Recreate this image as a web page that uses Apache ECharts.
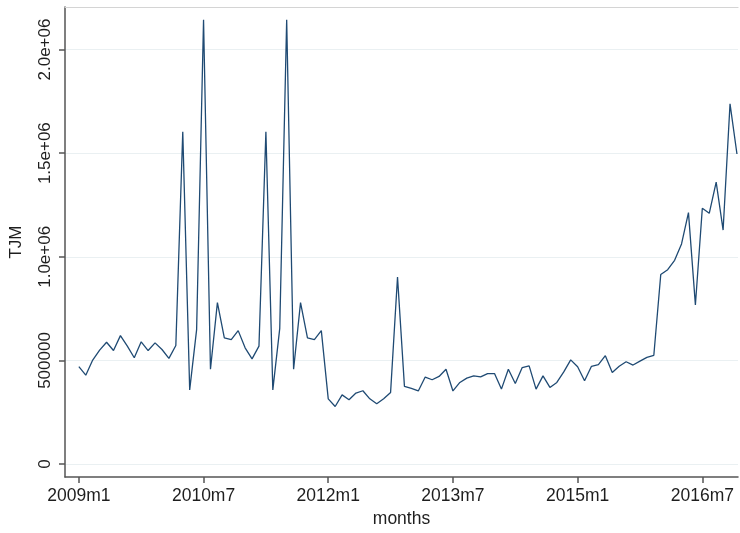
<!DOCTYPE html>
<html>
<head>
<meta charset="utf-8">
<script src="https://cdn.jsdelivr.net/npm/echarts@6/dist/echarts.min.js"></script>
<style>
  html, body { margin: 0; padding: 0; background: #ffffff; }
  #chart { width: 740px; height: 533px; }
</style>
</head>
<body>
<div id="chart"></div>
<script>
// Monthly TJM series, starting 2009m1 (index 0) through 2016m12 (index 95)
const tjm = [
  470000, 429000, 502000, 550000, 588000, 548000, 620000, 569000, 513000, 590000, 548000, 585000,
  553000, 510000, 572000, 1603000, 358000, 649000, 2143000, 458000, 779000, 609000, 601000, 644000,
  561000, 508000, 569000, 1603000, 358000, 655000, 2143000, 458000, 779000, 609000, 601000, 644000,
  315000, 278000, 334000, 311000, 343000, 354000, 315000, 291000, 315000, 346000, 903000, 375000,
  365000, 353000, 420000, 407000, 423000, 458000, 353000, 394000, 415000, 426000, 421000, 437000,
  437000, 362000, 458000, 389000, 466000, 474000, 362000, 426000, 370000, 394000, 445000, 503000,
  470000, 402000, 472000, 480000, 523000, 442000, 472000, 494000, 478000, 497000, 515000, 525000,
  915000, 938000, 983000, 1062000, 1213000, 768000, 1234000, 1210000, 1360000, 1129000, 1738000, 1496000
];

// Axis ticks (x: month offsets from 2009m1, y: levels) and their printed labels
const xTickValues = [0, 18, 36, 54, 72, 90];
const xTickLabels = ['2009m1', '2010m7', '2012m1', '2013m7', '2015m1', '2016m7'];
const yTickValues = [0, 500000, 1000000, 1500000, 2000000];
const yTickLabels = ['0', '500000', '1.0e+06', '1.5e+06', '2.0e+06'];

const points = tjm.map((v, i) => [i, v]);

const textColor = '#1e1e1e';
const axisColor = '#555555';
const fontFamily = '"Liberation Sans", Arial, sans-serif';

const chart = echarts.init(document.getElementById('chart'), null, { renderer: 'canvas' });
chart.setOption({
  animation: false,
  backgroundColor: '#ffffff',
  grid: { left: 65, right: 2, top: 7, bottom: 51, containLabel: false },
  xAxis: [
    {
      type: 'value',
      min: -2,
      max: 95.15,
      name: 'months',
      nameLocation: 'middle',
      nameGap: 33,
      nameTextStyle: { color: textColor, fontSize: 17.5, fontFamily },
      axisLine: { show: true, onZero: false, lineStyle: { color: axisColor, width: 1.5 } },
      axisTick: { show: true, length: 6, customValues: xTickValues, lineStyle: { color: axisColor, width: 1.5 } },
      axisLabel: {
        customValues: xTickValues,
        margin: 10,
        color: textColor,
        fontSize: 17.5,
        fontFamily,
        formatter: (v) => xTickLabels[xTickValues.indexOf(v)]
      },
      splitLine: { show: false }
    },
    {
      // light frame line along the top of the plot area
      type: 'value',
      position: 'top',
      min: -2,
      max: 95.15,
      axisLine: { show: true, onZero: false, lineStyle: { color: '#d4d4d4', width: 1.2 } },
      axisTick: { show: false },
      axisLabel: { show: false },
      splitLine: { show: false }
    }
  ],
  yAxis: {
    type: 'value',
    min: -62000,
    max: 2205000,
    name: 'TJM',
    nameLocation: 'middle',
    nameGap: 40,
    nameRotate: 90,
    nameTextStyle: { color: textColor, fontSize: 17, fontFamily },
    axisLine: { show: true, onZero: false, lineStyle: { color: axisColor, width: 1.5 } },
    axisTick: { show: true, length: 6, customValues: yTickValues, lineStyle: { color: axisColor, width: 1.5 } },
    axisLabel: {
      customValues: yTickValues,
      rotate: 90,
      margin: 11,
      color: textColor,
      fontSize: 17,
      fontFamily,
      formatter: (v) => yTickLabels[yTickValues.indexOf(v)]
    },
    splitLine: { show: true, lineStyle: { color: '#eaf0f2', width: 1.2 } }
  },
  series: [
    {
      type: 'line',
      xAxisIndex: 0,
      data: points,
      symbol: 'none',
      lineStyle: { color: '#1f4a73', width: 1.3 },
      silent: true
    }
  ]
});
</script>
</body>
</html>
